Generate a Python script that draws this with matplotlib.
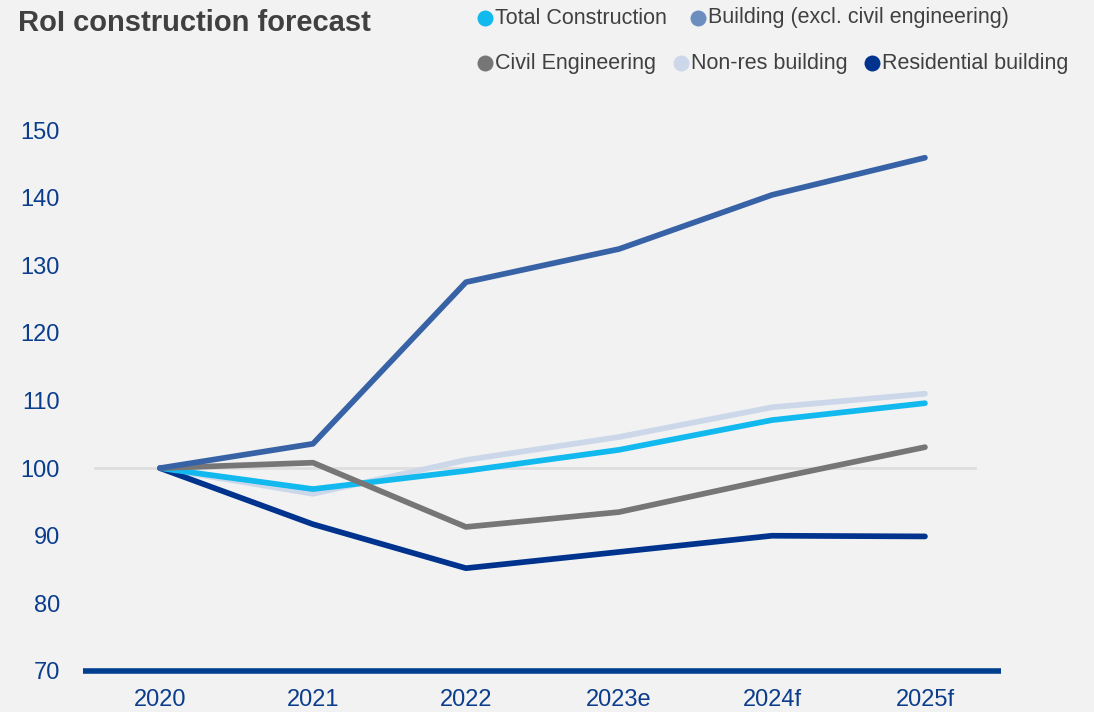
import matplotlib.pyplot as plt
from matplotlib.lines import Line2D

plt.rcParams['font.family'] = ['Liberation Sans', 'DejaVu Sans']

# --- data ---
years = ['2020', '2021', '2022', '2023e', '2024f', '2025f']
total_construction = [100, 96.9, 99.6, 102.7, 107.1, 109.6]
building_excl_civil = [100, 103.6, 127.5, 132.4, 140.4, 145.9]
civil_engineering = [100, 100.8, 91.3, 93.5, 98.4, 103.1]
non_res_building = [100, 96.2, 101.2, 104.6, 109.0, 111.0]
residential_building = [100, 91.7, 85.2, 87.6, 90.0, 89.9]

BG = '#f2f2f2'
TICK_BLUE = '#0b3d8c'

series = [
    # name, values, line colour
    ('Non-res building', non_res_building, '#ccd8ea'),
    ('Residential building', residential_building, '#00338d'),
    ('Total Construction', total_construction, '#12b9ee'),
    ('Civil Engineering', civil_engineering, '#767676'),
    ('Building (excl. civil engineering)', building_excl_civil, '#3862a6'),
]

fig = plt.figure(figsize=(10.94, 7.12), dpi=100, facecolor=BG)
ax = fig.add_axes([0.0763, 0.0576, 0.8391, 0.7598], facecolor=BG)

x = list(range(len(years)))
ax.axhline(100, xmin=0.0125, xmax=0.971, color='#dedede', lw=2, zorder=1)
for name, vals, col in series:
    ax.plot(x, vals, color=col, lw=4.1, solid_capstyle='round',
            solid_joinstyle='round', zorder=2)

ax.set_xlim(-0.5, 5.5)
ax.set_ylim(70, 150)
ax.set_yticks(range(70, 151, 10))
ax.set_xticks(x)
ax.set_xticklabels(years)
ax.tick_params(axis='both', length=0, labelsize=17, labelcolor=TICK_BLUE)
ax.tick_params(axis='y', pad=17)
ax.tick_params(axis='x', pad=13)
for s in ['top', 'right', 'left']:
    ax.spines[s].set_visible(False)
ax.spines['bottom'].set_color('#003f8f')
ax.spines['bottom'].set_linewidth(4)
ax.spines['bottom'].set_capstyle('butt')

fig.text(0.0165, 0.968, 'RoI construction forecast', fontsize=21, fontweight='bold',
         color='#404040', va='center', ha='left')

# legend drawn by hand: two rows with circle markers
W, H = 1094, 712
legend_items = [
    ('Total Construction', '#12b9ee', 485, 18),
    ('Building (excl. civil engineering)', '#6b8dc0', 698, 18),
    ('Civil Engineering', '#767676', 485, 63),
    ('Non-res building', '#ccd8ea', 681, 63),
    ('Residential building', '#00338d', 872, 63),
]
for label, col, px, py in legend_items:
    fig.add_artist(Line2D([px / W], [1 - py / H], marker='o', markersize=11.5,
                          color=col, markeredgewidth=0, transform=fig.transFigure))
    fig.text((px + 10) / W, 1 - py / H, label, fontsize=15.5, color='#404040',
             va='center', ha='left')

fig.savefig('out.png', dpi=100, facecolor=BG)
